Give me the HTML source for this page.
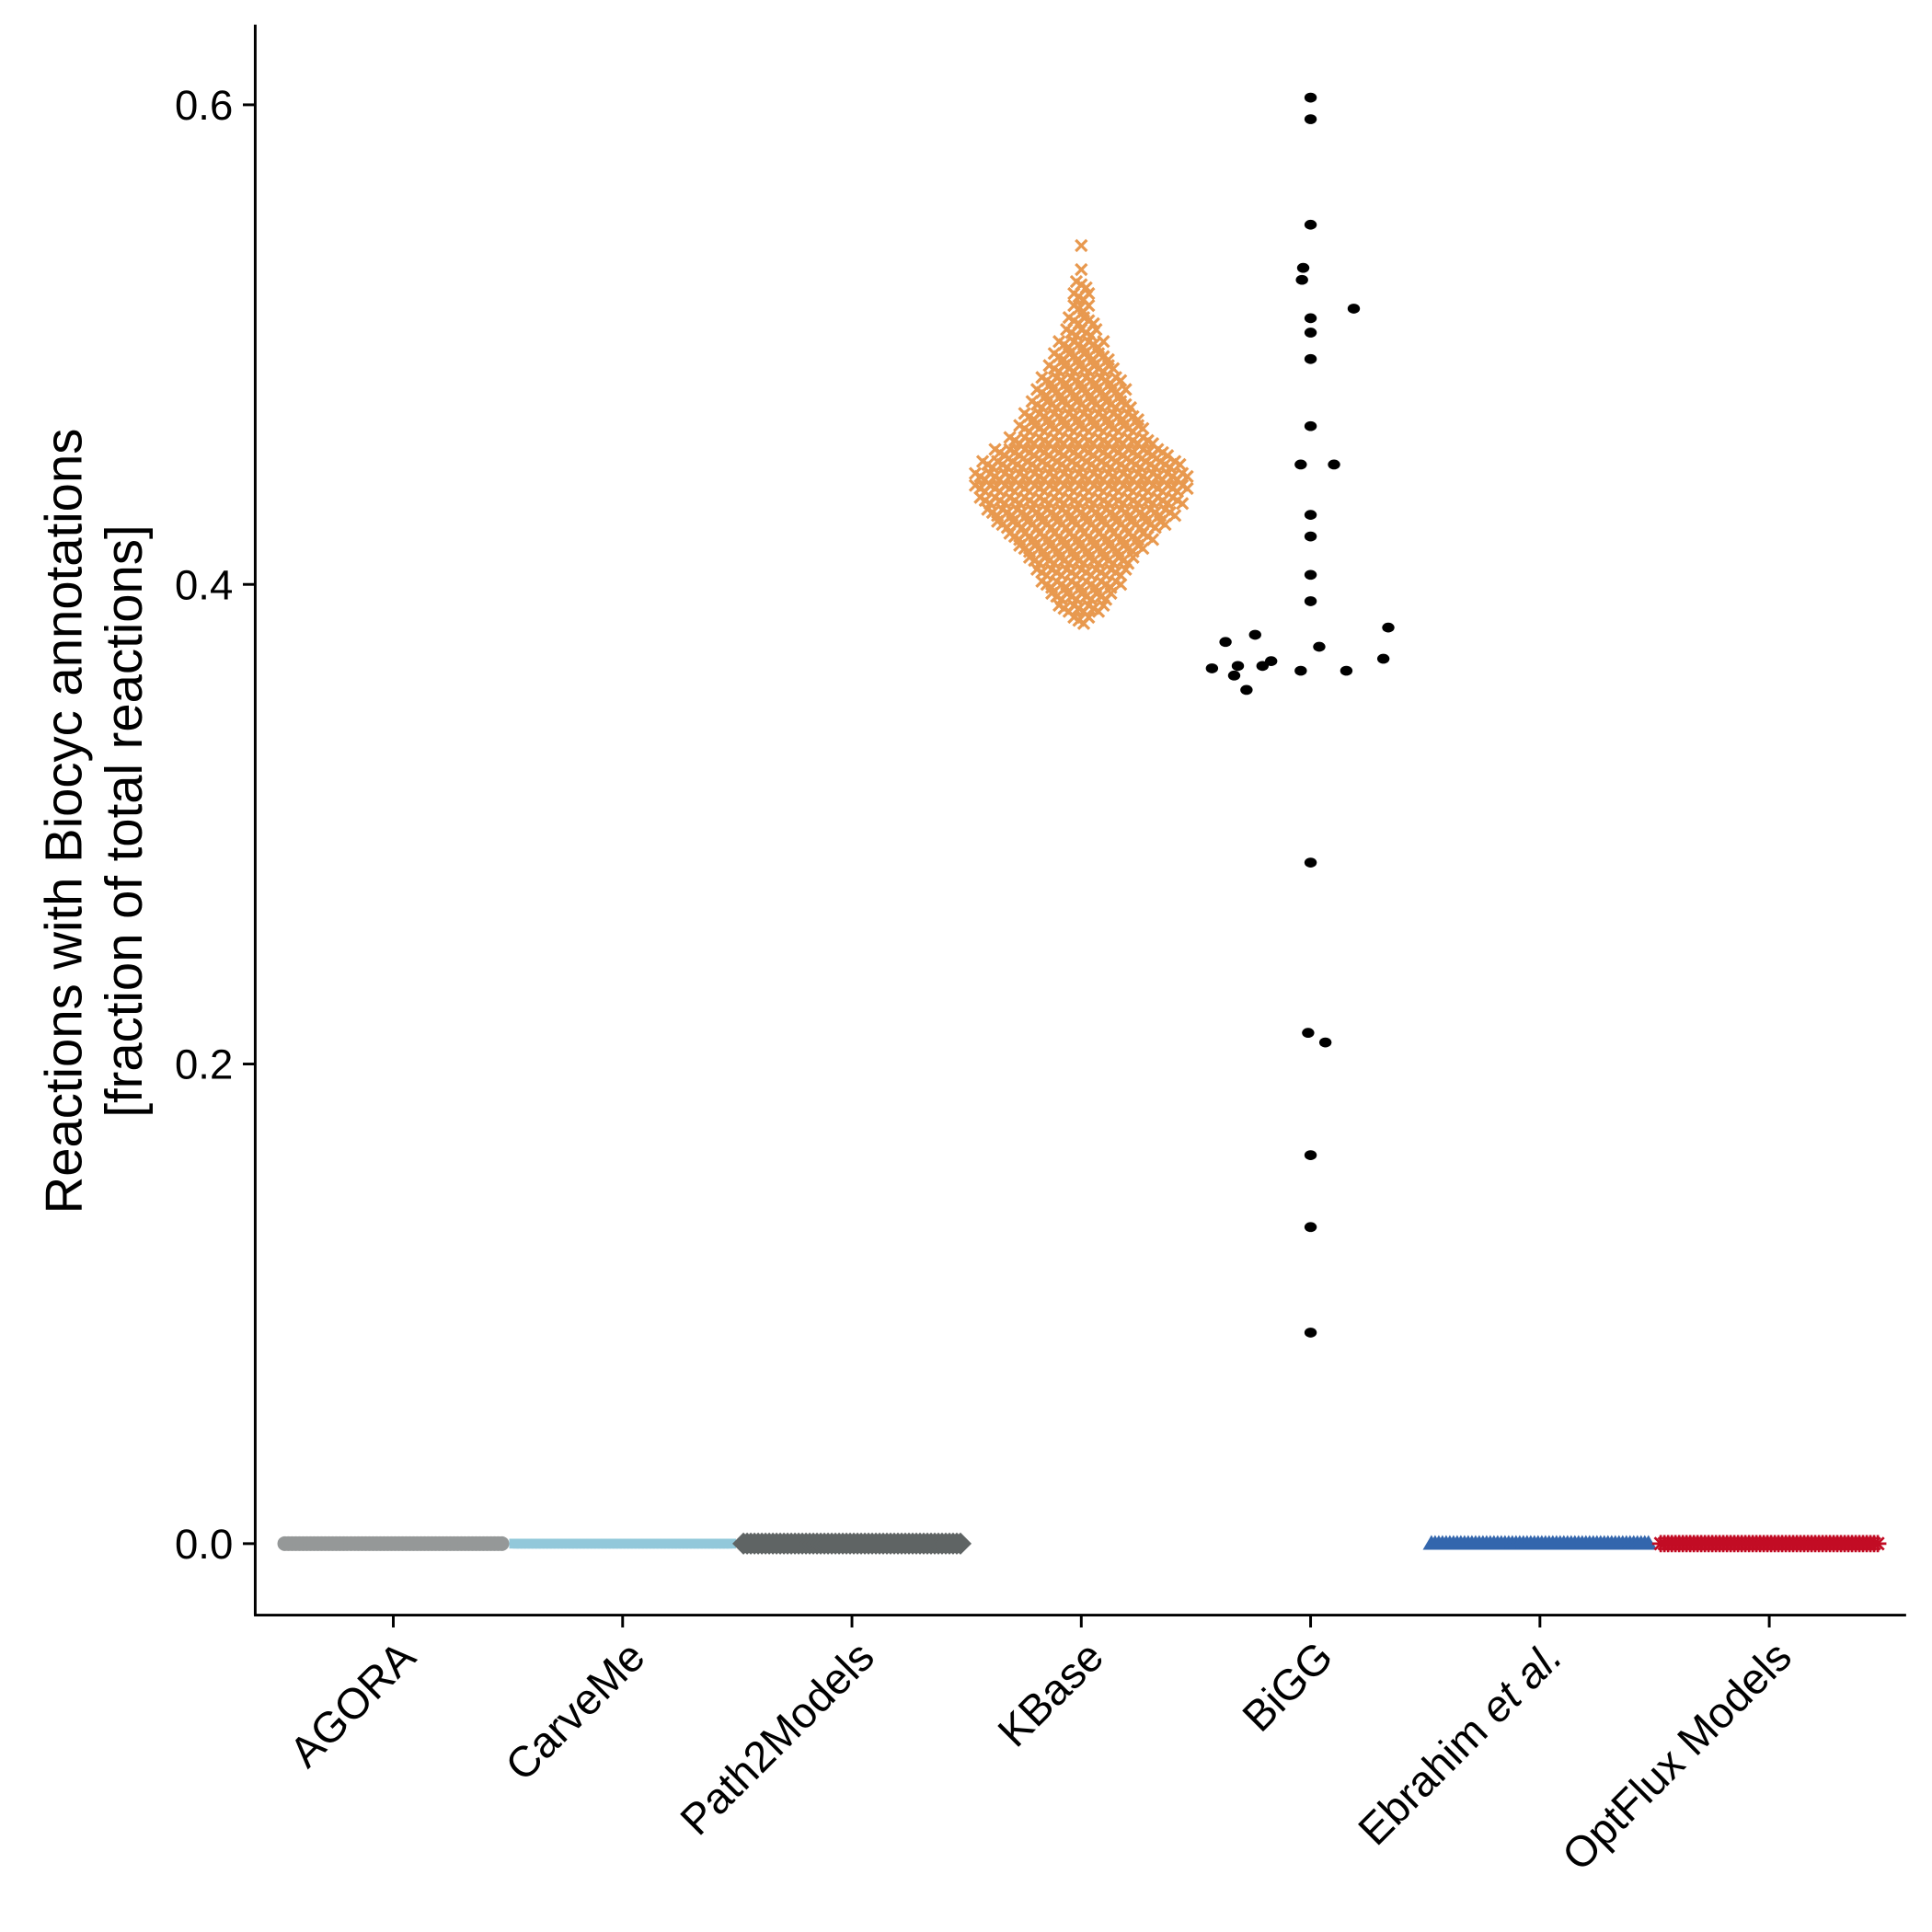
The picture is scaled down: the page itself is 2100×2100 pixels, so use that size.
<!DOCTYPE html>
<html><head><meta charset="utf-8"><style>
html,body{margin:0;padding:0;background:#fff;}
svg{display:block;}
text{font-family:"Liberation Sans",Arial,sans-serif;fill:#000;}
</style></head><body>
<svg id="chart" width="2100" height="2100" viewBox="0 0 1567 1567" xmlns="http://www.w3.org/2000/svg">
<g id="marks"></g>
<g id="axes"></g>
<text transform="translate(66,666) rotate(-90)" text-anchor="middle" font-size="42">Reactions with Biocyc annotations</text>
<text transform="translate(115,666) rotate(-90)" text-anchor="middle" font-size="42">[fraction of total reactions]</text>
</svg>
<script>
const categories = ["AGORA","CarveMe","Path2Models","KBase","BiGG","Ebrahim et al.","OptFlux Models"];
const yTicks = [0.0, 0.2, 0.4, 0.6];
const yTickLabels = ["0.0","0.2","0.4","0.6"];
const zeroCounts = [60, 60, 60, 0, 0, 60, 60];
const biggValues = [0.603,0.594,0.550,0.532,0.527,0.515,0.511,0.505,0.494,0.466,0.450,0.450,0.429,0.420,0.404,0.393,0.382,0.376,0.379,0.374,0.368,0.369,0.366,0.365,0.366,0.362,0.364,0.364,0.356,0.284,0.213,0.209,0.162,0.132,0.088];
const biggOffsets = [0,0,0,-6,-7,35,0,0,0,0,-8,19,0,0,0,0,63,-69,-45,7,-32,59,-39,-80,-59,-62,-8,29,-52,0,-2,12,0,0,0];
const kbaseBins = [0.385,0.39,0.395,0.40,0.405,0.41,0.415,0.42,0.425,0.43,0.435,0.44,0.445,0.45,0.455,0.46,0.465,0.47,0.475,0.48,0.485,0.49,0.495,0.50,0.505,0.51,0.515,0.52,0.525,0.53,0.54];
const kbaseCounts = [4,10,13,17,19,22,26,30,35,39,42,44,44,41,36,30,26,24,21,19,17,14,12,10,7,6,4,4,3,1,1];

const NS="http://www.w3.org/2000/svg";
const X0=207, X1=1546, YTOP=20, YBOT=1310;
function xScale(i){return 319+i*186;}
function yScale(v){return 1252 - v*1945;}
function mk(tag,attrs,parent){const e=document.createElementNS(NS,tag);for(const k in attrs)e.setAttribute(k,attrs[k]);parent.appendChild(e);return e;}
const marks=document.getElementById('marks'), axes=document.getElementById('axes');

let l=mk('line',{x1:X0,y1:YTOP,x2:X0,y2:YBOT,stroke:'#000','stroke-width':2.2},axes);


l=mk('line',{x1:X0-1,y1:YBOT,x2:X1,y2:YBOT,stroke:'#000','stroke-width':2.2},axes);


yTicks.forEach((v,k)=>{
  const y=yScale(v);
  const t=mk('line',{x1:X0-10,y1:y,x2:X0,y2:y,stroke:'#000','stroke-width':2.2},axes);
  
  
  const tx=mk('text',{x:X0-18,y:y+12,'text-anchor':'end','font-size':34},axes);
  tx.textContent=yTickLabels[k];
  
  
});
categories.forEach((c,i)=>{
  const x=xScale(i);
  const t=mk('line',{x1:x,y1:YBOT,x2:x,y2:YBOT+10,stroke:'#000','stroke-width':2.2},axes);
  
  
  const tx=mk('text',{transform:`translate(${x+20},${YBOT+36}) rotate(-45)`,'text-anchor':'end','font-size':35},axes);
  if(c==="Ebrahim et al."){tx.innerHTML='Ebrahim <tspan font-style="italic">et al.</tspan>';}
  else tx.textContent=c;
  
  
});

const stripColors=['#959898','#92c8da','#5f6464','','','#3366ad','#c20c24'];
zeroCounts.forEach((n,i)=>{
  if(!n)return;
  const g=mk('g',{},marks);
  
  
  const cx=xScale(i), y=yScale(0), col=stripColors[i];
  for(let k=0;k<n;k++){
    const x=cx-88+176*k/(n-1);
    let m;
    if(i===0) m=mk('circle',{cx:x,cy:y,r:6,fill:col},g);
    else if(i===1) m=mk('rect',{x:x-4,y:y-4,width:8,height:8,fill:col},g);
    else if(i===2) m=mk('polygon',{points:`${x-9},${y} ${x},${y-9} ${x+9},${y} ${x},${y+9}`,fill:col},g);
    else if(i===5) m=mk('polygon',{points:`${x-7},${y+5} ${x},${y-7} ${x+7},${y+5}`,fill:col},g);
    else {m=mk('path',{d:`M${x-7},${y}H${x+7}M${x},${y-7}V${y+7}M${x-5},${y-5}L${x+5},${y+5}M${x-5},${y+5}L${x+5},${y-5}`,stroke:col,'stroke-width':2},g);}
    
    
  }
});

const kg=mk('g',{stroke:'#e8994f','stroke-width':2.4},marks);


kbaseBins.forEach((v,b)=>{
  const n=kbaseCounts[b], y=yScale(v), cx=xScale(3);
  for(let k=0;k<n;k++){
    const x = n===1?cx: cx-2*(n-1)+4*k;
    const yy = y + ((k%3)-1)*2.5;
    const p=mk('path',{d:`M${x-4.5},${yy-4.5}L${x+4.5},${yy+4.5}M${x-4.5},${yy+4.5}L${x+4.5},${yy-4.5}`},kg);
    
    
  }
});

const bg=mk('g',{fill:'#000'},marks);


biggValues.forEach((v,k)=>{
  const c=mk('ellipse',{cx:xScale(4)+biggOffsets[k],cy:yScale(v),rx:5,ry:4},bg);
  
  
});
</script>
</body></html>
